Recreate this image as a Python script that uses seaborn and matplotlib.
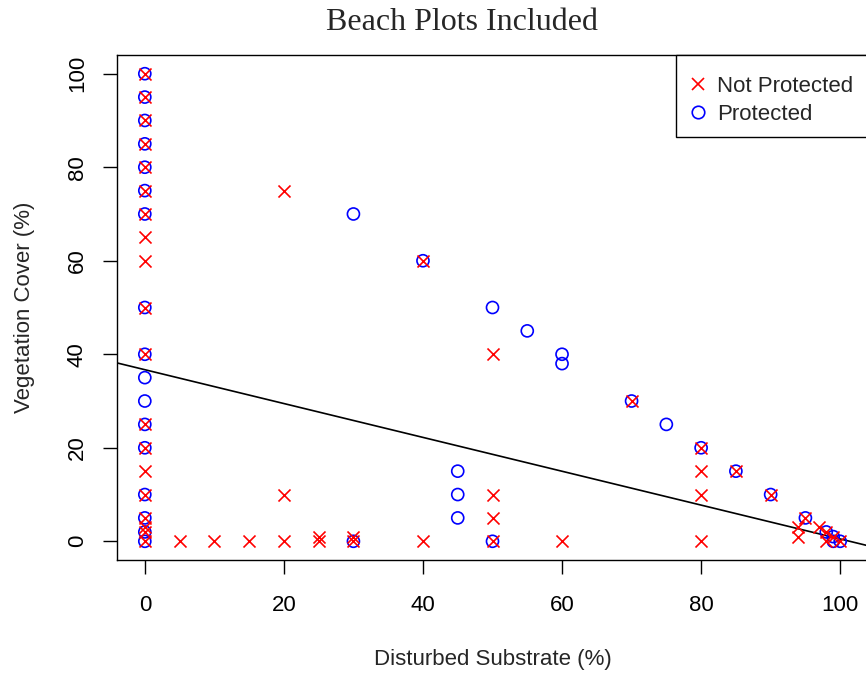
import matplotlib
matplotlib.use("Agg")
import matplotlib.pyplot as plt
from matplotlib.lines import Line2D
from matplotlib.patches import Rectangle
import seaborn as sns
import pandas as pd

# ---- data ----
not_prot_x = [0]*19 + [5, 10, 15, 20, 20, 20, 25, 25, 30, 30, 40, 40, 50, 50, 50, 50, 60,
                       70, 80, 80, 80, 80, 85, 90, 94, 94, 95, 97, 98, 98, 99, 100]
not_prot_y = [100, 95, 90, 85, 80, 75, 70, 65, 60, 50, 40, 25, 20, 15, 10, 5, 3, 2, 0] + \
             [0, 0, 0, 0, 10, 75, 0, 1, 0, 1, 0, 60, 0, 5, 10, 40, 0,
              30, 0, 10, 15, 20, 15, 10, 1, 3, 5, 3, 2, 0, 1, 0]
prot_x = [0]*17 + [30, 30, 40, 45, 45, 45, 50, 50, 55, 60, 60, 70, 75, 80, 85, 90, 95, 98, 99, 99, 100]
prot_y = [100, 95, 90, 85, 80, 75, 70, 50, 40, 35, 30, 25, 20, 10, 5, 2, 0] + \
         [0, 70, 60, 5, 10, 15, 0, 50, 45, 40, 38, 30, 25, 20, 15, 10, 5, 2, 1, 0, 0]
fit_intercept = 36.7
fit_slope = -0.362
x_ticks = [0, 20, 40, 60, 80, 100]
y_ticks = [0, 20, 40, 60, 80, 100]
series_labels = ["Not Protected", "Protected"]

df_np = pd.DataFrame({"x": not_prot_x, "y": not_prot_y})
df_p = pd.DataFrame({"x": prot_x, "y": prot_y})

sns.set_style("ticks")
plt.rcParams["font.family"] = ["Liberation Sans", "DejaVu Sans"]

fig = plt.figure(figsize=(8.66, 6.75), dpi=100)
ax = fig.add_axes([117/866, 115/675, (868-117)/866, (560-55)/675])

sns.scatterplot(data=df_p, x="x", y="y", ax=ax, marker="o", s=75,
                facecolors="none", edgecolor="blue", linewidth=1.2, zorder=3)
sns.scatterplot(data=df_np, x="x", y="y", ax=ax, marker="x", s=75,
                color="red", linewidth=1.2, zorder=4)

ax.axline((0, fit_intercept), slope=fit_slope, color="black", lw=1.2, zorder=2)

ax.set_xlim(-4, 104)
ax.set_ylim(-4, 104)
ax.set_xticks(x_ticks)
ax.set_yticks(y_ticks)
ax.set_yticklabels([str(v) for v in y_ticks], rotation=90, va="center")
ax.tick_params(axis="both", direction="out", length=10, width=1, labelsize=16,
               colors="black")
ax.tick_params(axis="x", pad=15)
ax.tick_params(axis="y", pad=11)
for sp in ax.spines.values():
    sp.set_visible(True)
    sp.set_color("black")
    sp.set_linewidth(1.0)

ax.set_xlabel("Disturbed Substrate (%)", fontsize=16, labelpad=24)
ax.set_ylabel("Vegetation Cover (%)", fontsize=16, labelpad=23)
fig.text(462/866, 1 - 22/675, "Beach Plots Included", fontsize=23,
         family=["Liberation Serif"], ha="center", va="center")

# legend frame (square, black) drawn in axes coordinates
ax.add_patch(Rectangle((0.7443, 0.8376), 0.30, 0.1624, transform=ax.transAxes,
                       facecolor="white", edgecolor="black", linewidth=1.0,
                       clip_on=False, zorder=5))
handles = [
    Line2D([], [], marker="x", color="red", linestyle="none", markersize=9, markeredgewidth=1.2),
    Line2D([], [], marker="o", markerfacecolor="none", markeredgecolor="blue",
           linestyle="none", markersize=9, markeredgewidth=1.2),
]
leg = ax.legend(handles, series_labels, loc="upper left", bbox_to_anchor=(0.7674, 0.9584),
                borderaxespad=0, fontsize=16, frameon=False,
                handlelength=0.4, handletextpad=0.68, borderpad=0, labelspacing=0.3)
leg.set_zorder(6)

fig.savefig("out.png", dpi=100)
